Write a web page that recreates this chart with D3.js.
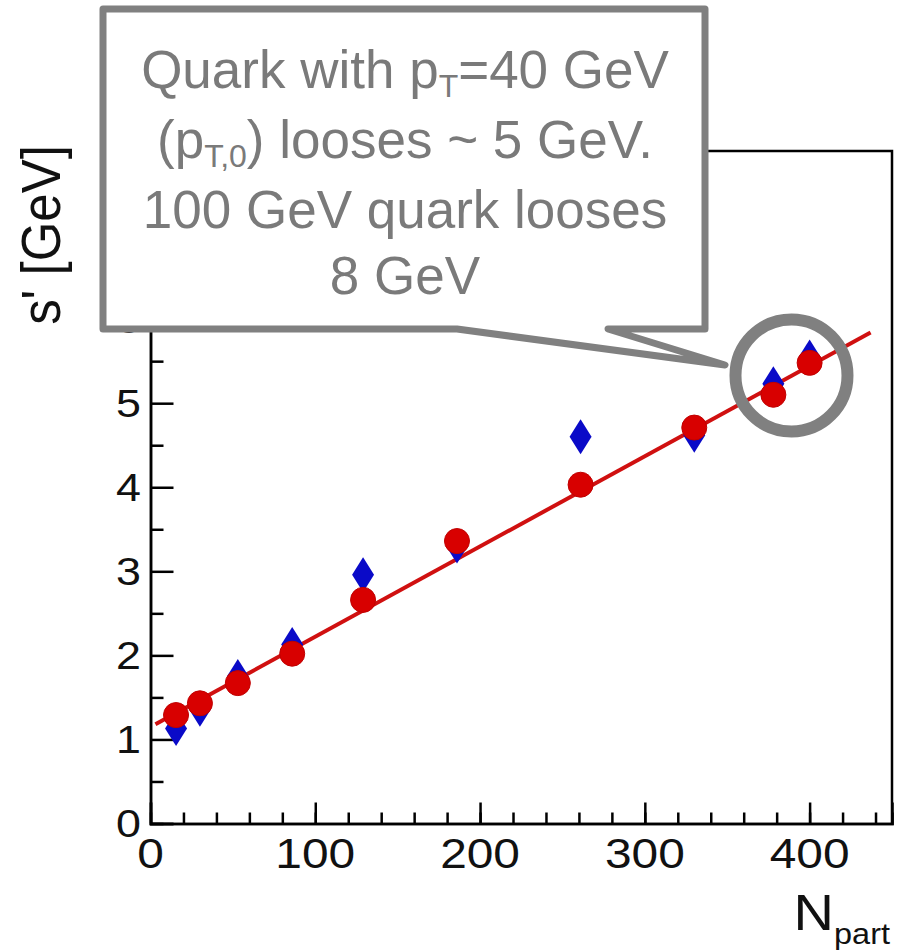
<!DOCTYPE html>
<html>
<head>
<meta charset="utf-8">
<script src="https://cdnjs.cloudflare.com/ajax/libs/d3/7.8.5/d3.min.js"></script>
<style>
  body { margin: 0; background: #fff; }
  svg { display: block; font-family: "Liberation Sans", Arial, sans-serif; }
</style>
</head>
<body>
<svg id="chart" width="903" height="951"></svg>
<script>
// centrality bins (N_part) and energy loss shift s'
var nPart = [15.5, 30, 53, 86, 129, 186, 261, 330, 378, 400];
var sCircle = [1.29, 1.43, 1.67, 2.02, 2.66, 3.36, 4.03, 4.71, 5.10, 5.48];
var sDiamond = [1.13, 1.36, 1.75, 2.13, 2.96, 3.30, 4.60, 4.62, 5.23, 5.55];

// linear fit drawn through the points
var fitN = [3, 437];
var fitS = [1.18, 5.84];

var xMajor = [0, 100, 200, 300, 400];
var xMinor = d3.range(20, 450, 20);
var yMajor = [0, 1, 2, 3, 4, 5, 6, 7, 8];
var yMinor = d3.range(0.5, 8, 1);

var calloutLines = [
    [["Quark with p", 0], ["T", 1], ["=40 GeV", 0]],
    [["(p", 0], ["T,0", 1], [") looses ~ 5 GeV.", 0]],
    [["100 GeV quark looses", 0]],
    [["8 GeV", 0]]
];

var svg = d3.select("#chart");

var x = d3.scaleLinear().domain([0, 450]).range([150.5, 892]);
var y = d3.scaleLinear().domain([0, 8]).range([823.5, 151]);

var ink = "#000";
var gray = "#808080";

// frame
svg.append("path")
    .attr("d", "M" + x(0) + "," + y(8) + "H" + x(450) + "V" + y(0))
    .attr("fill", "none")
    .attr("stroke", ink)
    .attr("stroke-width", 2.5);

// axes: major + minor ticks pointing inward
var xAxisMajor = d3.axisBottom(x).tickValues(xMajor).tickSize(-21).tickFormat("");
var xAxisMinor = d3.axisBottom(x).tickValues(xMinor).tickSize(-11).tickFormat("");
var yAxisMajor = d3.axisLeft(y).tickValues(yMajor).tickSize(-23).tickFormat("");
var yAxisMinor = d3.axisLeft(y).tickValues(yMinor).tickSize(-13).tickFormat("");

[[xAxisMajor, "translate(0," + y(0) + ")"], [xAxisMinor, "translate(0," + y(0) + ")"],
 [yAxisMajor, "translate(" + x(0) + ",0)"], [yAxisMinor, "translate(" + x(0) + ",0)"]]
.forEach(function(a){
    var g = svg.append("g").attr("transform", a[1]).call(a[0]);
    g.select(".domain").attr("stroke", ink).attr("stroke-width", 2.5);
    g.selectAll(".tick line").attr("stroke", ink).attr("stroke-width", 2.5);
});

// tick labels (slightly wide glyphs as in the original)
svg.append("g").selectAll("text")
    .data(xMajor)
    .enter().append("text")
    .attr("transform", function(d){ return "translate(" + x(d) + ",868) scale(1.14,1)"; })
    .attr("text-anchor", "middle")
    .attr("font-size", 42)
    .attr("fill", "#111")
    .text(function(d){ return d; });

svg.append("g").selectAll("text")
    .data(yMajor)
    .enter().append("text")
    .attr("transform", function(d){ return "translate(141," + (y(d) + 13.5) + ") scale(1.15,1)"; })
    .attr("text-anchor", "end")
    .attr("font-size", 39)
    .attr("fill", "#111")
    .text(function(d){ return d; });

// axis titles
var xt = svg.append("text")
    .attr("transform", "translate(890,930) scale(1.12,1)")
    .attr("text-anchor", "end")
    .attr("fill", "#111");
xt.append("tspan").attr("font-size", 50).text("N");
xt.append("tspan").attr("font-size", 29).attr("dy", 14).text("part");

svg.append("text")
    .attr("transform", "translate(60,235) rotate(-90) scale(1,1.08)")
    .attr("text-anchor", "middle")
    .attr("font-size", 51)
    .attr("fill", "#111")
    .text("s' [GeV]");

// fit line
svg.append("line")
    .attr("x1", x(fitN[0])).attr("y1", y(fitS[0]))
    .attr("x2", x(fitN[1])).attr("y2", y(fitS[1]))
    .attr("stroke", "#d01010")
    .attr("stroke-width", 4);

// blue diamonds
svg.append("g").selectAll("path")
    .data(nPart)
    .enter().append("path")
    .attr("d", function(d, i){
        var cx = x(d), cy = y(sDiamond[i]);
        return "M" + cx + "," + (cy - 17.5) + "L" + (cx + 11) + "," + cy +
               "L" + cx + "," + (cy + 17.5) + "L" + (cx - 11) + "," + cy + "Z";
    })
    .attr("fill", "#0a0ac8");

// red circles
svg.append("g").selectAll("circle")
    .data(nPart)
    .enter().append("circle")
    .attr("cx", function(d){ return x(d); })
    .attr("cy", function(d, i){ return y(sCircle[i]); })
    .attr("r", 12.5)
    .attr("fill", "#d80000")
    .attr("stroke", "#c00000")
    .attr("stroke-width", 1);

// callout box with pointer
svg.append("path")
    .attr("d", "M103,9H705V329H608L725,365L457,329H103Z")
    .attr("fill", "#fff")
    .attr("stroke", gray)
    .attr("stroke-width", 7)
    .attr("stroke-linejoin", "round");

var baselines = [88, 158, 228, 294];
calloutLines.forEach(function(line, i){
    var t = svg.append("text")
        .attr("x", 405)
        .attr("y", baselines[i])
        .attr("text-anchor", "middle")
        .attr("font-size", 53)
        .attr("fill", "#7a7a7a");
    var shifted = false;
    line.forEach(function(part){
        var s = t.append("tspan").text(part[0]);
        if(part[1]){
            s.attr("font-size", 32).attr("dy", 9);
            shifted = true;
        } else if(shifted){
            s.attr("dy", -9);
            shifted = false;
        }
    });
});

// highlight ring around the two most central points
svg.append("circle")
    .attr("cx", x(389))
    .attr("cy", y(5.33))
    .attr("r", 56)
    .attr("fill", "none")
    .attr("stroke", gray)
    .attr("stroke-width", 12);
</script>
</body>
</html>
